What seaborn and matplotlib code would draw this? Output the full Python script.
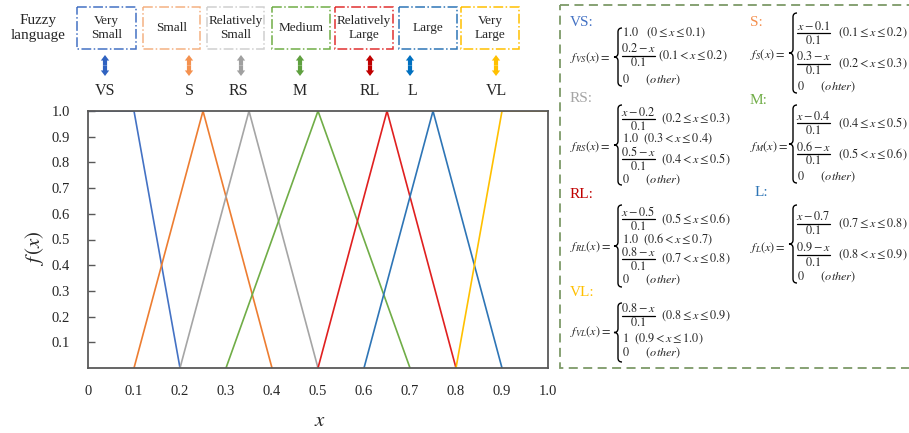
import numpy as np
import pandas as pd
import matplotlib
matplotlib.use("Agg")
import matplotlib.pyplot as plt
import seaborn as sns
from matplotlib.path import Path
from matplotlib.patches import PathPatch, Rectangle, FancyArrowPatch

# membership functions as drawn (x breakpoints, f values)
terms = ["VS", "S", "RS", "M", "RL", "L", "VL"]
x_vs = [0.0, 0.1, 0.2]
y_vs = [1.0, 1.0, 0.0]
x_s = [0.1, 0.25, 0.4]
y_s = [0.0, 1.0, 0.0]
x_rs = [0.2, 0.35, 0.5]
y_rs = [0.0, 1.0, 0.0]
x_m = [0.3, 0.5, 0.7]
y_m = [0.0, 1.0, 0.0]
x_rl = [0.5, 0.65, 0.8]
y_rl = [0.0, 1.0, 0.0]
x_l = [0.6, 0.75, 0.9]
y_l = [0.0, 1.0, 0.0]
x_vl = [0.8, 0.9, 1.0]
y_vl = [0.0, 1.0, 1.0]

names = ["Very\nSmall", "Small", "Relatively\nSmall", "Medium",
         "Relatively\nLarge", "Large", "Very\nLarge"]
xticks = [0, 0.1, 0.2, 0.3, 0.4, 0.5, 0.6, 0.7, 0.8, 0.9, 1.0]
xtick_labels = ["0", "0.1", "0.2", "0.3", "0.4", "0.5", "0.6", "0.7", "0.8", "0.9", "1.0"]
yticks = [0.1, 0.2, 0.3, 0.4, 0.5, 0.6, 0.7, 0.8, 0.9, 1.0]
ytick_labels = ["0.1", "0.2", "0.3", "0.4", "0.5", "0.6", "0.7", "0.8", "0.9", "1.0"]

line_colors = {"VS": "#4472C4", "S": "#ED7D31", "RS": "#A5A5A5", "M": "#70AD47",
               "RL": "#E02020", "L": "#2E75B6", "VL": "#FFC000"}
arrow_colors = {"VS": "#2F62C0", "S": "#F4914F", "RS": "#A0A0A0", "M": "#5FA03F",
                "RL": "#C00000", "L": "#0070C0", "VL": "#FFC000"}
box_colors = {"VS": "#4472C4", "S": "#F4B183", "RS": "#D0D0D0", "M": "#70AD47",
              "RL": "#E03030", "L": "#2E75B6", "VL": "#FFC000"}

# formula panel content: plain rows are strings, fraction rows are (numerator, denominator, condition)
formulas = {
    "VS": [r"$1.0\quad(0 \leq x \leq 0.1)$",
           (r"$0.2-x$", r"$0.1$", r"$(0.1 < x \leq 0.2)$"),
           r"$0\qquad(other)$"],
    "S": [(r"$x-0.1$", r"$0.1$", r"$(0.1 \leq x \leq 0.2)$"),
          (r"$0.3-x$", r"$0.1$", r"$(0.2 < x \leq 0.3)$"),
          r"$0\qquad(ohter)$"],
    "RS": [(r"$x-0.2$", r"$0.1$", r"$(0.2 \leq x \leq 0.3)$"),
           r"$1.0\ \ (0.3 < x \leq 0.4)$",
           (r"$0.5-x$", r"$0.1$", r"$(0.4 < x \leq 0.5)$"),
           r"$0\qquad(other)$"],
    "M": [(r"$x-0.4$", r"$0.1$", r"$(0.4 \leq x \leq 0.5)$"),
          (r"$0.6-x$", r"$0.1$", r"$(0.5 < x \leq 0.6)$"),
          r"$0\qquad(other)$"],
    "RL": [(r"$x-0.5$", r"$0.1$", r"$(0.5 \leq x \leq 0.6)$"),
           r"$1.0\ \ (0.6 < x \leq 0.7)$",
           (r"$0.8-x$", r"$0.1$", r"$(0.7 < x \leq 0.8)$"),
           r"$0\qquad(other)$"],
    "L": [(r"$x-0.7$", r"$0.1$", r"$(0.7 \leq x \leq 0.8)$"),
          (r"$0.9-x$", r"$0.1$", r"$(0.8 < x \leq 0.9)$"),
          r"$0\qquad(other)$"],
    "VL": [(r"$0.8-x$", r"$0.1$", r"$(0.8 \leq x \leq 0.9)$"),
           r"$1\ \ (0.9 < x \leq 1.0)$",
           r"$0\qquad(other)$"],
}
label_colors = {"VS": "#4472C4", "S": "#F4904F", "RS": "#A5A5A5", "M": "#70AD47",
                "RL": "#C00000", "L": "#2E75B6", "VL": "#FFC000"}

sns.set_theme(style="white")
plt.rcParams["font.family"] = ["Liberation Serif", "DejaVu Serif"]
plt.rcParams["mathtext.fontset"] = "stix"

df = pd.concat([
    pd.DataFrame({"x": xs, "f": ys, "term": t})
    for t, xs, ys in zip(terms, [x_vs, x_s, x_rs, x_m, x_rl, x_l, x_vl],
                         [y_vs, y_s, y_rs, y_m, y_rl, y_l, y_vl])
])

W, H = 909, 433
fig = plt.figure(figsize=(W / 100, H / 100), dpi=100)
ax = fig.add_axes([88 / W, 1 - 368 / H, 460 / W, 257 / H])
sns.lineplot(data=df, x="x", y="f", hue="term", palette=line_colors,
             estimator=None, sort=False, legend=False, lw=1.2, ax=ax)
ax.set_xlim(0, 1)
ax.set_ylim(0, 1)
ax.set_xticks(xticks, xtick_labels, fontsize=10.5)
ax.set_yticks(yticks, ytick_labels, fontsize=10.5)
ax.tick_params(axis="x", length=0, pad=12)
ax.tick_params(axis="y", direction="in", length=5, width=1, color="#595959", pad=13, left=True)
ax.set_xlabel("")
ax.set_ylabel("")
for sp in ax.spines.values():
    sp.set_color("#595959")
    sp.set_linewidth(1.3)

# overlay in pixel coordinates for the annotations around the chart
ov = fig.add_axes([0, 0, 1, 1], facecolor="none")
ov.set_xlim(0, W)
ov.set_ylim(H, 0)
ov.axis("off")

ov.text(35, 248, r"$f\,(x)$", rotation=90, ha="center", va="center", fontsize=15)
ov.text(320, 421, r"$x$", ha="center", va="center", fontsize=15)

ov.text(38, 28, "Fuzzy\nlanguage", ha="center", va="center", fontsize=11, linespacing=1.2)

box_x = [77, 143, 207, 272, 335, 399, 461]
box_w = [59, 57, 57, 58, 58, 58, 58]
for t, bx, bw, nm in zip(terms, box_x, box_w, names):
    ov.add_patch(Rectangle((bx, 7), bw, 42, fill=False, ec=box_colors[t], lw=1.1, ls="-."))
    ov.text(bx + bw / 2, 28, nm, ha="center", va="center", fontsize=9.5, linespacing=1.15)

arrow_x = [105, 189, 241, 300, 370, 410, 496]
label_x = [105, 189, 238, 300, 370, 412, 496]
for t, axx, lx in zip(terms, arrow_x, label_x):
    for tip in (55, 76):
        ov.add_patch(FancyArrowPatch((axx, 65.5), (axx, tip),
                                     arrowstyle="simple,head_length=0.4,head_width=0.6,tail_width=0.3",
                                     mutation_scale=10, lw=0, color=arrow_colors[t],
                                     shrinkA=0, shrinkB=0))
    ov.text(lx, 91, t, ha="center", va="center", fontsize=11.5)

# formula panel (right edge runs off the picture, as in the original)
ov.add_patch(Rectangle((560, 5), 352, 363, fill=False, ec="#7D9A68", lw=1.3, ls=(0, (5, 3)),
                       clip_on=False))


def brace(x, top, bot, w=4):
    mid = (top + bot) / 2
    verts = [(x + w, top), (x, top), (x, top + w), (x, mid - w), (x, mid), (x - w, mid),
             (x, mid), (x, mid + w), (x, bot - w), (x, bot), (x + w, bot)]
    codes = [Path.MOVETO, Path.CURVE3, Path.CURVE3, Path.LINETO, Path.CURVE3, Path.CURVE3,
             Path.CURVE3, Path.CURVE3, Path.LINETO, Path.CURVE3, Path.CURVE3]
    ov.add_patch(PathPatch(Path(verts, codes), fill=False, lw=1.0, ec="black"))


FS = 8.8
# (term, label x, label y, function x, function y, brace x, brace top, brace bottom,
#  fraction width, condition offset, row ys)
blocks = [
    ("VS", 570, 23, 570, 58, 618, 28, 86, 33, 36, [33, 56, 80]),
    ("RS", 570, 98, 570, 147, 618, 105, 185, 33, 39, [119, 139, 159, 180]),
    ("RL", 570, 195, 570, 247, 618, 205, 287, 33, 39, [219, 239, 259, 280]),
    ("VL", 570, 293, 570, 332, 618, 303, 362, 33, 39, [316, 339, 353]),
    ("S", 750, 23, 750, 55, 793, 13, 93, 33, 41, [33, 64, 87]),
    ("M", 750, 100, 750, 147, 793, 105, 183, 33, 41, [123, 154, 177]),
    ("L", 755, 193, 750, 248, 793, 205, 283, 33, 41, [224, 255, 277]),
]
for t, lx, ly, fx, fy, bx, b0, b1, fw, cdx, rows in blocks:
    ov.text(lx, ly, t + ":", color=label_colors[t], ha="left", va="center", fontsize=11)
    ov.text(fx, fy, r"$f_{%s}(x) = $" % t, ha="left", va="center", fontsize=FS)
    brace(bx, b0, b1)
    x0 = bx + 4
    for ry, row in zip(rows, formulas[t]):
        if isinstance(row, tuple):
            num, den, cond = row
            ov.text(x0 + fw / 2, ry - 7, num, ha="center", va="center", fontsize=FS)
            ov.plot([x0, x0 + fw], [ry, ry], color="black", lw=0.9)
            ov.text(x0 + fw / 2, ry + 7, den, ha="center", va="center", fontsize=FS)
            ov.text(x0 + cdx, ry, cond, ha="left", va="center", fontsize=FS)
        else:
            ov.text(x0, ry, row, ha="left", va="center", fontsize=FS)

fig.savefig("out.png", dpi=100)
